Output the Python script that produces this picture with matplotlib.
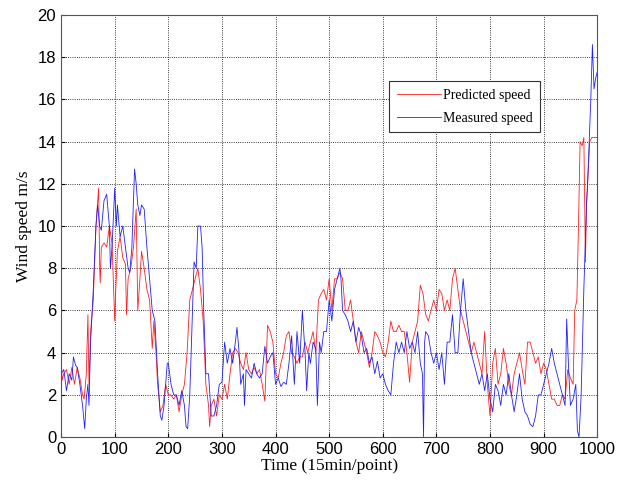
import matplotlib.pyplot as plt

# measured wind speed (blue)
meas_x = [0, 5, 10, 15, 20, 23, 27, 30, 35, 40, 44, 47, 50, 52, 55, 60, 65, 68, 72, 75, 80, 85, 90, 92, 95,
          100, 103, 105, 110, 115, 120, 125, 128, 132, 137, 140, 143, 147, 150, 155, 160, 165, 170, 175, 180,
          185, 188, 192, 198, 200, 205, 210, 215, 220, 225, 230, 233, 236, 240, 245, 248, 252, 255, 260, 263,
          266, 270, 275, 280, 285, 290, 295, 300, 305, 310, 315, 320, 325, 328, 332, 335, 340, 342, 345, 350,
          355, 360, 365, 370, 375, 380, 385, 390, 395, 400, 405, 410, 415, 420, 425, 430, 435, 440, 445, 450,
          455, 458, 462, 465, 470, 475, 478, 482, 485, 490, 495, 500, 505, 510, 515, 520, 522, 525, 530, 535,
          540, 545, 550, 555, 560, 565, 570, 575, 580, 585, 590, 595, 600, 605, 610, 615, 620, 625, 630, 635,
          640, 645, 650, 655, 660, 665, 670, 674, 676, 678, 680, 685, 690, 695, 700, 705, 710, 715, 720, 725,
          730, 735, 740, 745, 750, 755, 760, 765, 770, 775, 780, 785, 790, 795, 800, 805, 810, 815, 820, 825,
          830, 835, 840, 845, 850, 855, 860, 865, 870, 875, 880, 885, 890, 895, 900, 905, 910, 915, 920, 925,
          930, 935, 940, 943, 947, 950, 955, 960, 963, 966, 970, 975, 980, 982, 985, 988, 991, 994, 997, 1000]
meas_y = [3.0, 3.2, 2.2, 3.0, 2.7, 3.8, 3.4, 3.3, 2.5, 1.5, 0.4, 1.8, 2.5, 1.5, 4.5, 7.0, 10.0, 11.0, 10.0, 9.8,
          11.2, 11.5, 10.0, 8.0, 9.0, 11.8, 10.0, 11.0, 9.5, 10.0, 9.0, 8.0, 7.8, 9.0, 12.7, 12.0, 11.0, 10.5,
          11.0, 10.8, 9.0, 7.5, 6.0, 5.5, 3.0, 1.0, 0.8, 1.5, 3.5, 3.5, 2.5, 2.0, 2.0, 1.5, 2.2, 1.5, 0.5, 0.4,
          2.0, 6.0, 8.3, 8.0, 10.0, 10.0, 9.0, 6.0, 3.0, 3.0, 1.0, 1.0, 1.5, 2.5, 2.6, 4.5, 3.5, 4.2, 3.5, 4.5,
          5.2, 4.0, 2.5, 3.0, 1.5, 3.2, 3.0, 2.8, 3.5, 3.0, 2.8, 3.0, 4.3, 3.5, 3.8, 4.0, 2.5, 2.8, 2.4, 2.6,
          2.5, 3.5, 4.8, 2.5, 5.0, 3.5, 6.0, 4.0, 2.2, 4.0, 3.5, 4.5, 4.2, 1.5, 4.5, 4.0, 5.0, 5.0, 6.5, 5.5,
          7.0, 7.5, 8.0, 7.5, 6.0, 5.8, 5.5, 5.0, 5.5, 4.5, 5.2, 4.8, 4.0, 4.2, 3.5, 3.8, 3.0, 3.6, 2.8, 3.0,
          2.5, 2.2, 2.0, 3.5, 4.5, 4.0, 4.5, 4.0, 5.0, 4.2, 4.5, 4.0, 5.0, 3.5, 3.0, 0.0, 4.5, 5.0, 4.8, 4.0,
          3.5, 4.0, 3.2, 4.0, 2.5, 4.5, 4.5, 5.8, 4.0, 4.0, 6.0, 7.5, 6.0, 5.0, 4.0, 3.5, 3.0, 2.5, 3.0, 2.2,
          3.0, 1.8, 1.2, 2.5, 2.2, 1.5, 2.5, 2.0, 3.0, 2.0, 1.2, 2.0, 3.0, 1.8, 1.2, 1.0, 0.6, 0.5, 1.0, 2.0,
          2.0, 2.5, 3.0, 3.5, 4.2, 3.5, 3.0, 2.5, 2.0, 1.5, 5.6, 3.0, 1.5, 1.8, 2.5, 0.3, 0.0, 2.0, 7.0, 11.0,
          12.0, 14.0, 16.0, 18.6, 16.5, 17.0, 17.3]

# predicted wind speed (red)
pred_x = [0, 2, 5, 10, 15, 20, 25, 30, 35, 40, 43, 47, 50, 52, 55, 60, 65, 70, 72, 73, 75, 80, 85, 90, 95,
          100, 102, 105, 110, 115, 120, 122, 125, 130, 135, 140, 143, 147, 150, 155, 160, 165, 170, 173, 177,
          180, 185, 190, 195, 200, 205, 210, 215, 220, 225, 230, 235, 240, 245, 250, 255, 260, 265, 270, 275,
          277, 280, 285, 290, 295, 300, 305, 310, 315, 320, 325, 330, 335, 340, 345, 350, 355, 360, 365, 370,
          375, 380, 385, 390, 395, 400, 405, 410, 415, 420, 425, 430, 435, 440, 445, 450, 455, 460, 465, 470,
          475, 480, 485, 490, 495, 500, 505, 510, 515, 520, 525, 530, 535, 540, 545, 550, 555, 560, 565, 570,
          575, 580, 585, 590, 595, 600, 605, 610, 615, 620, 625, 630, 635, 640, 645, 650, 655, 660, 665, 670,
          675, 680, 685, 690, 695, 700, 705, 710, 715, 720, 725, 730, 735, 740, 745, 750, 755, 760, 765, 770,
          775, 780, 785, 790, 795, 800, 805, 810, 815, 820, 825, 830, 835, 840, 845, 850, 855, 860, 865, 870,
          875, 880, 885, 890, 895, 900, 905, 910, 915, 920, 925, 930, 935, 940, 945, 950, 955, 958, 962, 965,
          968, 972, 975, 978, 980, 983, 986, 990, 1000]
pred_y = [3.8, 2.7, 3.0, 3.2, 2.5, 3.3, 2.5, 3.3, 2.8, 2.0, 1.8, 3.0, 5.8, 2.5, 5.0, 6.5, 10.0, 11.8, 8.0, 7.3,
          9.0, 9.2, 9.0, 10.0, 9.2, 5.5, 7.0, 8.8, 9.5, 8.5, 8.2, 5.8, 7.5, 8.0, 9.0, 10.8, 6.0, 7.5, 8.8, 8.0,
          7.0, 6.5, 4.2, 5.5, 4.0, 2.5, 1.2, 1.5, 2.5, 2.0, 2.0, 1.8, 2.0, 1.2, 2.0, 2.5, 4.0, 6.5, 7.0, 7.5,
          8.0, 7.0, 5.5, 2.5, 1.5, 0.5, 1.5, 1.8, 1.0, 2.0, 1.8, 2.5, 1.8, 3.0, 4.0, 4.2, 4.0, 3.5, 3.2, 4.0,
          3.2, 3.0, 3.3, 3.0, 3.2, 2.5, 1.7, 5.3, 5.0, 4.5, 3.0, 2.8, 3.5, 4.0, 4.8, 5.0, 4.0, 3.8, 3.5, 3.8,
          3.8, 4.5, 4.0, 4.5, 5.0, 4.0, 6.5, 6.8, 7.0, 6.5, 7.5, 6.0, 7.5, 7.5, 7.8, 7.5, 6.0, 6.0, 6.5, 5.5,
          4.5, 4.0, 5.0, 4.5, 4.0, 3.3, 4.0, 5.0, 4.8, 4.5, 4.0, 3.8, 4.5, 5.5, 5.0, 5.0, 5.3, 5.0, 5.0, 4.0,
          2.6, 4.5, 5.0, 5.5, 7.2, 6.8, 5.8, 5.5, 6.0, 6.5, 6.0, 7.0, 6.8, 6.0, 6.5, 6.0, 7.5, 8.0, 7.0, 6.0,
          5.5, 5.0, 4.5, 4.0, 4.5, 4.0, 3.5, 3.0, 5.0, 2.5, 1.0, 3.5, 4.2, 2.5, 3.0, 4.2, 3.5, 2.5, 2.0, 3.0,
          3.5, 4.0, 3.2, 2.5, 4.5, 4.5, 4.0, 3.5, 3.8, 3.0, 3.5, 3.2, 2.5, 1.8, 1.8, 1.5, 1.5, 2.0, 1.8, 3.2,
          2.8, 2.5, 6.0, 6.5, 10.0, 14.0, 13.8, 14.2, 8.3, 11.0, 12.5, 14.0, 14.2, 14.2]

x_ticks = [0, 100, 200, 300, 400, 500, 600, 700, 800, 900, 1000]
y_ticks = [0, 2, 4, 6, 8, 10, 12, 14, 16, 18, 20]

fig = plt.figure(figsize=(6.3, 4.83), dpi=100)
ax = fig.add_axes([0.097, 0.095, 0.851, 0.874])

ax.plot(pred_x, pred_y, color='#ff2020', lw=0.6, label='Predicted speed')
ax.plot(meas_x, meas_y, color='#2020ff', lw=0.6, label='Measured speed')

ax.set_xlim(0, 1000)
ax.set_ylim(0, 20)
ax.set_xticks(x_ticks)
ax.set_yticks(y_ticks)
ax.tick_params(direction='in', labelsize=12, length=3)
for lab in ax.get_xticklabels() + ax.get_yticklabels():
    lab.set_family('Liberation Sans')

ax.grid(True, color='black', linestyle=':', lw=0.6)
for s in ax.spines.values():
    s.set_color('#555555')
    s.set_linewidth(0.8)

ax.set_xlabel('Time (15min/point)', family='Liberation Serif', fontsize=12.5, labelpad=1)
ax.set_ylabel('Wind speed m/s', family='Liberation Serif', fontsize=12.5, labelpad=4)

leg = ax.legend(loc='upper left', bbox_to_anchor=(0.612, 0.843), prop={'family': 'Liberation Serif', 'size': 10},
                fancybox=False, edgecolor='#333333', framealpha=1, handlelength=3.2, handletextpad=0.1,
                borderpad=0.55, labelspacing=0.7, borderaxespad=0)
leg.get_frame().set_linewidth(0.8)

fig.savefig('out.png', dpi=100)
